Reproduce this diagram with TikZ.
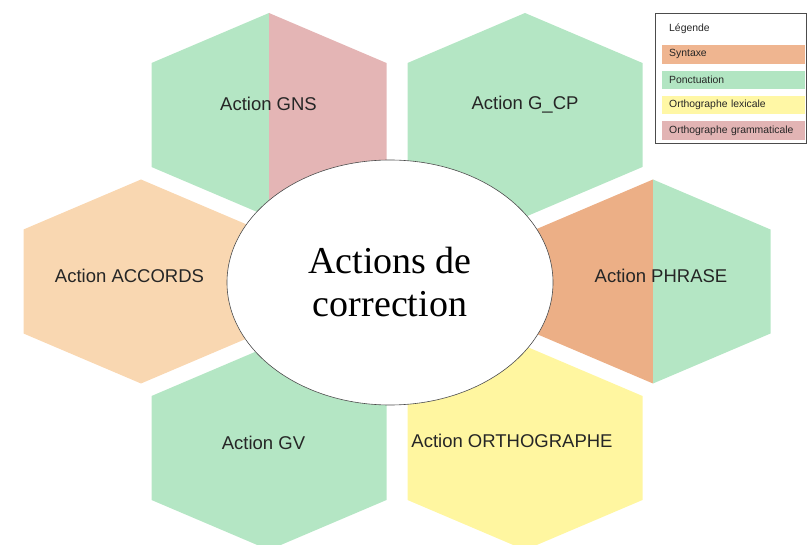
\documentclass[tikz,border=0pt]{standalone}
\usepackage{fontspec}
\setmainfont{Liberation Serif}
\newfontfamily\arialfont{Liberation Sans}
\usepackage{tikz}
\usetikzlibrary{shapes,positioning}
\definecolor{vert}{HTML}{B4E6C4}
\definecolor{rose}{HTML}{E4B5B5}
\definecolor{peche}{HTML}{F9D7B1}
\definecolor{orange}{HTML}{ECAF86}
\definecolor{jaune}{HTML}{FFF6A0}
\definecolor{syntaxe}{HTML}{EFB590}
\definecolor{ponct}{HTML}{B2E5C2}
\definecolor{lexicale}{HTML}{FFF7A5}
\definecolor{gramm}{HTML}{E2B4B4}
\newcommand{\hexa}{(117.5,-52) -- (0,-102) -- (-117.5,-52) -- (-117.5,52) -- (0,102) -- (117.5,52) -- cycle}
\newcommand{\hexgauche}{(0,-102) -- (-117.5,-52) -- (-117.5,52) -- (0,102) -- cycle}
\newcommand{\hexdroite}{(0,-102) -- (117.5,-52) -- (117.5,52) -- (0,102) -- cycle}
\tikzset{
        hexlabel/.style = {anchor=base, inner sep=0pt, text=black!85, font=\arialfont\fontsize{18.5}{22}\selectfont},
        legitem/.style = {fill=#1, minimum height=18.5pt, text width=129pt, inner xsep=7pt, inner ysep=0pt,
                          align=left, text=black!85, font=\arialfont\fontsize{10.4}{12}\selectfont},
        centre/.style = {draw=black!70, line width=0.6pt, fill=white, ellipse, inner sep=0pt,
                         minimum width=326pt, minimum height=245pt, align=center}}

\begin{document}
\begin{tikzpicture}[x=1pt, y=-1pt, node distance=6.5pt]
            \useasboundingbox (0,0) rectangle (807,545);

            % hexagones
            \fill[vert, shift={(269,115)}] \hexgauche;
            \fill[rose, shift={(269,115)}] \hexdroite;
            \fill[vert, shift={(525,115)}] \hexa;
            \fill[peche, shift={(141,281.5)}] \hexa;
            \fill[orange, shift={(653,281.5)}] \hexgauche;
            \fill[vert, shift={(653,281.5)}] \hexdroite;
            \fill[vert, shift={(269,448)}] \hexa;
            \fill[jaune, shift={(525,448)}] \hexa;

            \node [hexlabel] (gns) at (268.5,111) {Action GNS};
            \node [hexlabel] (gcp) at (525,110) {Action G\_CP};
            \node [hexlabel] (accords) at (129.5,283) {Action ACCORDS};
            \node [hexlabel] (phrase) at (661,283) {Action PHRASE};
            \node [hexlabel] (gv) at (263.5,450) {Action GV};
            \node [hexlabel] (ortho) at (512,448) {Action ORTHOGRAPHE};

            \node [centre, font=\fontsize{38}{43}\selectfont] (actions) at (390,282.5) {Actions de\\correction};

            % legende
            \draw[black!70, line width=0.7pt] (655,13) rectangle (806,143);
            \node [anchor=west, inner sep=0pt, text=black!85, font=\arialfont\fontsize{10.4}{12}\selectfont] (legende) at (669,29) {Légende};
            \node [legitem=syntaxe, anchor=north west] (syn) at (662,45) {Syntaxe};
            \node [legitem=ponct, below=of syn] (pon) {Ponctuation};
            \node [legitem=lexicale, below=of pon] (lex) {Orthographe lexicale};
            \node [legitem=gramm, below=of lex] (gra) {Orthographe grammaticale};
    \end{tikzpicture}
\end{document}
